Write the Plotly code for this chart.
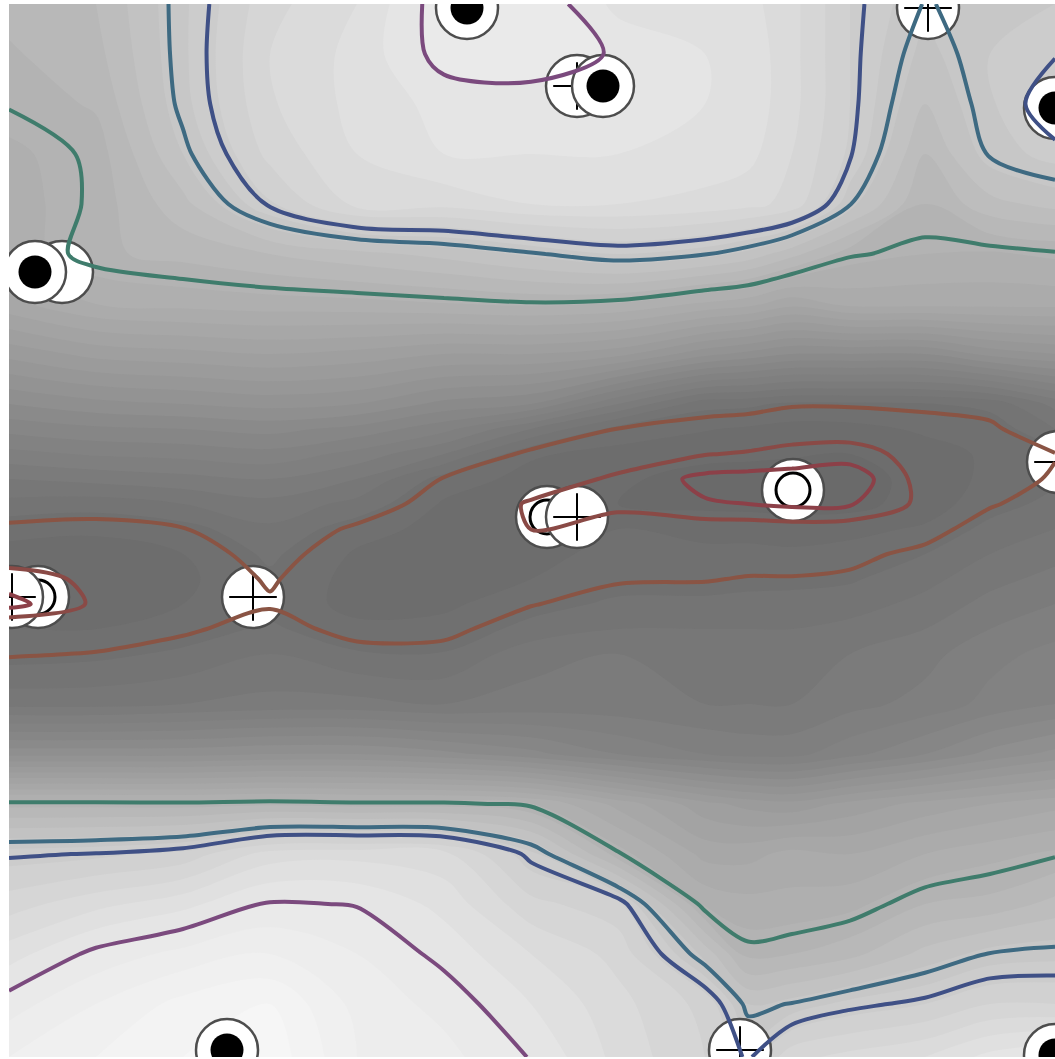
import numpy as np
import plotly.graph_objects as go

# sample positions of the scalar field (pixel-like units, y grows downward)
grid_x = [9, 96, 183, 270, 357, 444, 531, 618, 705, 748, 792, 850, 925, 990, 1055]
grid_y = [4, 54, 104, 154, 204, 254, 304, 354, 404, 429, 454, 479, 504, 529,
          554, 579, 604, 629, 654, 704, 754, 804, 854, 904, 954, 1004, 1057]

# field values, one list per grid column, listed top to bottom
col_009 = [0.735, 0.728, 0.721, 0.712, 0.71, 0.705, 0.68, 0.63, 0.58, 0.555, 0.53, 0.505, 0.485, 0.465,
           0.455, 0.446, 0.436, 0.462, 0.468, 0.50, 0.59, 0.725, 0.7975, 0.828, 0.858, 0.888, 0.91]
col_096 = [0.745, 0.74, 0.732, 0.7225, 0.722, 0.727, 0.70, 0.645, 0.59, 0.562, 0.537, 0.51, 0.482, 0.462,
           0.455, 0.452, 0.452, 0.46, 0.471, 0.50, 0.59, 0.725, 0.801, 0.845, 0.885, 0.91, 0.925]
col_183 = [0.787, 0.787, 0.785, 0.775, 0.755, 0.735, 0.705, 0.65, 0.595, 0.565, 0.54, 0.515, 0.49, 0.469,
           0.46, 0.457, 0.46, 0.467, 0.478, 0.505, 0.59, 0.724, 0.81, 0.86, 0.90, 0.93, 0.94]
col_270 = [0.83, 0.835, 0.833, 0.825, 0.803, 0.745, 0.708, 0.655, 0.60, 0.57, 0.545, 0.52, 0.50, 0.487,
           0.478, 0.472, 0.468, 0.478, 0.49, 0.51, 0.595, 0.727, 0.842, 0.882, 0.91, 0.94, 0.95]
col_357 = [0.85, 0.855, 0.855, 0.85, 0.84, 0.755, 0.71, 0.65, 0.595, 0.56, 0.53, 0.505, 0.485, 0.466,
           0.458, 0.455, 0.456, 0.463, 0.477, 0.51, 0.595, 0.724, 0.845, 0.879, 0.895, 0.905, 0.91]
col_444 = [0.89, 0.887, 0.87, 0.865, 0.84, 0.765, 0.714, 0.64, 0.575, 0.54, 0.505, 0.468, 0.458, 0.455,
           0.455, 0.455, 0.457, 0.465, 0.476, 0.505, 0.585, 0.724, 0.84, 0.86, 0.875, 0.89, 0.90]
col_531 = [0.895, 0.89, 0.872, 0.865, 0.85, 0.778, 0.718, 0.64, 0.565, 0.505, 0.462, 0.455, 0.449, 0.4495,
           0.455, 0.46, 0.469, 0.48, 0.50, 0.51, 0.57, 0.716, 0.795, 0.825, 0.85, 0.865, 0.879]
col_618 = [0.86, 0.878, 0.874, 0.865, 0.85, 0.79, 0.714, 0.63, 0.52, 0.469, 0.455, 0.4485, 0.445, 0.46,
           0.465, 0.468, 0.478, 0.49, 0.505, 0.51, 0.55, 0.68, 0.722, 0.81, 0.83, 0.84, 0.845]
col_705 = [0.86, 0.865, 0.865, 0.86, 0.845, 0.781, 0.697, 0.60, 0.48, 0.461, 0.4505, 0.437, 0.441, 0.456,
           0.463, 0.469, 0.478, 0.49, 0.50, 0.505, 0.535, 0.645, 0.68, 0.712, 0.77, 0.815, 0.82]
col_748 = [0.855, 0.86, 0.86, 0.855, 0.84, 0.77, 0.69, 0.59, 0.478, 0.458, 0.449, 0.436, 0.44, 0.456,
           0.463, 0.471, 0.479, 0.49, 0.50, 0.505, 0.53, 0.635, 0.68, 0.705, 0.725, 0.775, 0.797]
col_792 = [0.84, 0.84, 0.84, 0.835, 0.83, 0.75, 0.675, 0.58, 0.472, 0.455, 0.447, 0.435, 0.438, 0.455,
           0.462, 0.471, 0.48, 0.49, 0.50, 0.505, 0.53, 0.63, 0.69, 0.705, 0.73, 0.781, 0.83]
col_850 = [0.805, 0.805, 0.805, 0.802, 0.781, 0.722, 0.69, 0.58, 0.472, 0.456, 0.445, 0.433, 0.439, 0.456,
           0.465, 0.473, 0.483, 0.495, 0.505, 0.515, 0.545, 0.645, 0.685, 0.71, 0.74, 0.795, 0.84]
col_925 = [0.779, 0.77, 0.76, 0.745, 0.73, 0.715, 0.69, 0.58, 0.474, 0.462, 0.455, 0.455, 0.453, 0.462,
           0.475, 0.485, 0.495, 0.505, 0.515, 0.525, 0.565, 0.66, 0.70, 0.73, 0.765, 0.805, 0.85]
col_990 = [0.785, 0.79, 0.788, 0.782, 0.755, 0.713, 0.69, 0.60, 0.48, 0.465, 0.462, 0.462, 0.468, 0.48,
           0.49, 0.50, 0.51, 0.52, 0.53, 0.54, 0.585, 0.67, 0.71, 0.735, 0.781, 0.82, 0.87]
col_1055 = [0.79, 0.799, 0.81, 0.796, 0.765, 0.718, 0.69, 0.61, 0.51, 0.49, 0.469, 0.472, 0.48, 0.49,
            0.50, 0.51, 0.52, 0.53, 0.54, 0.55, 0.60, 0.68, 0.718, 0.75, 0.785, 0.82, 0.88]

field_columns = [col_009, col_096, col_183, col_270, col_357, col_444, col_531, col_618,
                 col_705, col_748, col_792, col_850, col_925, col_990, col_1055]

# iso-levels drawn as coloured lines
iso_levels = [0.88, 0.80, 0.78, 0.72, 0.47, 0.45, 0.44]
iso_colors = ["#7b4a7e", "#3f5086", "#3e6a82", "#3f7c6c", "#8a5444", "#8a4a46", "#8c4048"]

# critical points: kind ("max", "saddle", "min", "blank") and stacking layer
cp_x = [577, 62, 547, 38,
        603, 35, 577, 12, 467, 928, 1055, 253, 793, 1058, 227, 740, 1055]
cp_y = [86, 272, 517, 597,
        86, 272, 517, 597, 8, 8, 108, 597, 490, 462, 1050, 1050, 1055]
cp_kind = ["saddle", "blank", "min", "min",
           "max", "max", "saddle", "saddle", "max", "saddle", "max", "saddle", "min",
           "saddle", "max", "saddle", "max"]
cp_layer = [0, 0, 0, 0,
            1, 1, 1, 1, 1, 1, 1, 1, 1, 1, 1, 1, 1]

# grey ramp for the shaded field
grey_stops = [(0.40, 98), (0.44, 106), (0.47, 113), (0.50, 120), (0.55, 132), (0.60, 146),
              (0.65, 160), (0.72, 178), (0.80, 205), (0.88, 232), (0.95, 246), (1.00, 252)]
z_lo, z_hi = 0.40, 1.00
grey_scale = [[(v - z_lo) / (z_hi - z_lo), f"rgb({g},{g},{g})"] for v, g in grey_stops]

z = np.array(field_columns).T

fig = go.Figure()

# grey shaded field
fig.add_trace(go.Contour(
    x=grid_x, y=grid_y, z=z,
    zmin=z_lo, zmax=z_hi, autocontour=False,
    contours=dict(start=0.40, end=1.0, size=0.015, coloring="fill", showlines=False),
    colorscale=grey_scale,
    line=dict(width=0, smoothing=1.0),
    showscale=False, hoverinfo="skip",
))

# critical point glyphs, drawn layer by layer so overlapping pairs stack
for layer in (0, 1):
    idx = [i for i in range(len(cp_x)) if cp_layer[i] == layer]
    fig.add_trace(go.Scatter(
        x=[cp_x[i] for i in idx], y=[cp_y[i] for i in idx], mode="markers",
        marker=dict(symbol="circle", size=62, color="white",
                    line=dict(color="#4d4d4d", width=2.5)),
        showlegend=False, hoverinfo="skip",
    ))
    mx = [i for i in idx if cp_kind[i] == "max"]
    fig.add_trace(go.Scatter(
        x=[cp_x[i] for i in mx], y=[cp_y[i] for i in mx], mode="markers",
        marker=dict(symbol="circle", size=33, color="black", line=dict(width=0)),
        showlegend=False, hoverinfo="skip",
    ))
    sd = [i for i in idx if cp_kind[i] == "saddle"]
    fig.add_trace(go.Scatter(
        x=[cp_x[i] for i in sd], y=[cp_y[i] for i in sd], mode="markers",
        marker=dict(symbol="cross-thin", size=34, color="black",
                    line=dict(color="black", width=2)),
        showlegend=False, hoverinfo="skip",
    ))
    mn = [i for i in idx if cp_kind[i] == "min"]
    fig.add_trace(go.Scatter(
        x=[cp_x[i] for i in mn], y=[cp_y[i] for i in mn], mode="markers",
        marker=dict(symbol="circle-open", size=34, color="black",
                    line=dict(color="black", width=3)),
        showlegend=False, hoverinfo="skip",
    ))

# iso-lines on an overlaid subplot so they sit above the glyphs
for lev, col in zip(iso_levels, iso_colors):
    fig.add_trace(go.Contour(
        x=grid_x, y=grid_y, z=z, xaxis="x2", yaxis="y2",
        autocontour=False,
        contours=dict(start=lev, end=lev, size=1.0, coloring="none"),
        line=dict(color=col, width=4, smoothing=0.9),
        showscale=False, hoverinfo="skip",
    ))

x_range = [9, 1055]
y_range = [1057, 4]
fig.update_layout(
    width=1055, height=1059,
    margin=dict(l=9, r=0, t=4, b=2, pad=0),
    paper_bgcolor="white", plot_bgcolor="white",
    showlegend=False,
    xaxis=dict(range=x_range, visible=False),
    yaxis=dict(range=y_range, visible=False),
    xaxis2=dict(range=x_range, visible=False, overlaying="x"),
    yaxis2=dict(range=y_range, visible=False, overlaying="y"),
)

fig.write_html("out.html")
